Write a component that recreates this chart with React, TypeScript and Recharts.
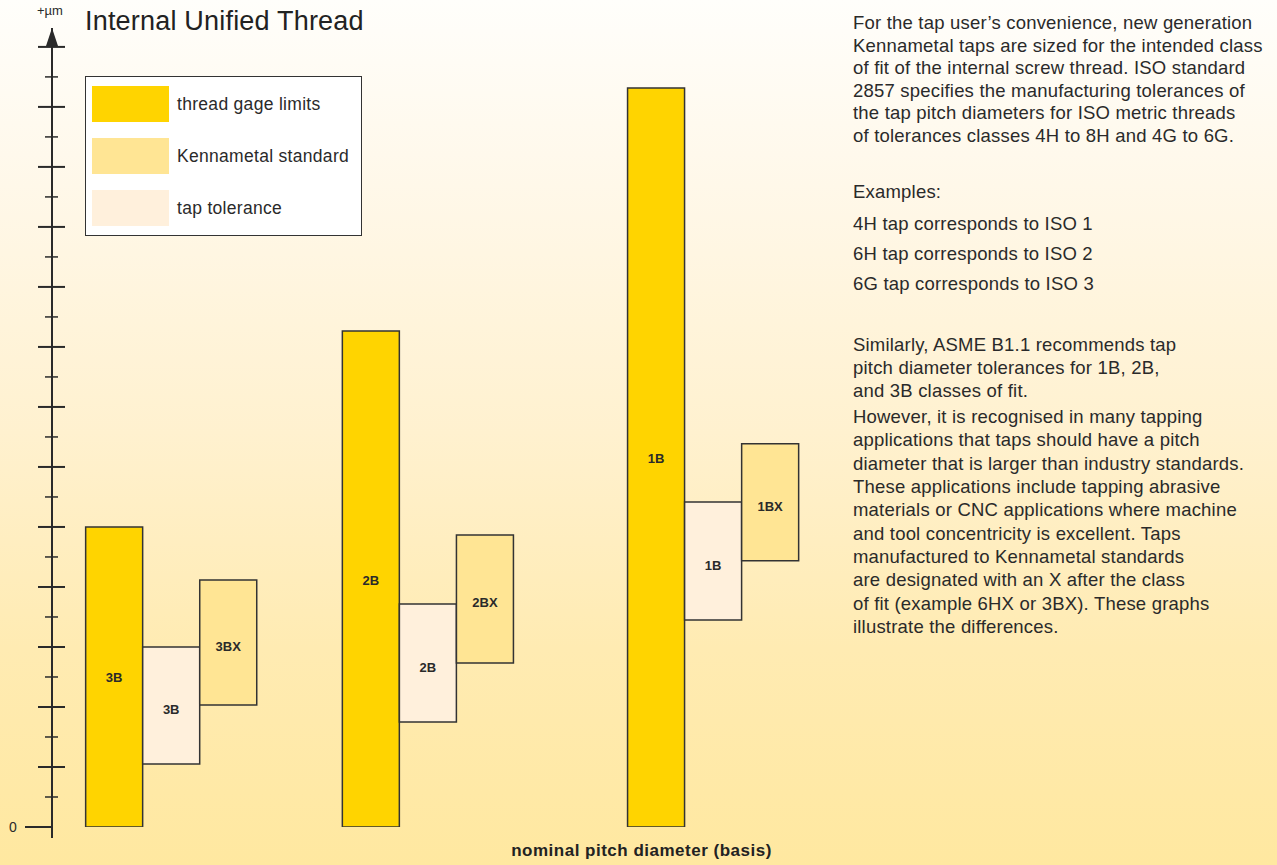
import React from 'react';
import { BarChart, Bar, XAxis, YAxis, Cell, LabelList } from 'recharts';

// thread classes, left to right
const groups = ['3B', '2B', '1B'];
// thread gage limits (from 0 up), µm in tick units
const gageHigh = [10.0, 16.53, 24.63];
// tap tolerance band
const tapLow = [2.1, 3.5, 6.9];
const tapHigh = [6.0, 7.43, 10.83];
// Kennametal standard band
const kennLow = [4.07, 5.47, 8.87];
const kennHigh = [8.23, 9.73, 12.77];
// y axis ticks (every other one is a long tick)
const yTicks = [0, 1, 2, 3, 4, 5, 6, 7, 8, 9, 10, 11, 12, 13, 14, 15, 16, 17, 18, 19, 20, 21, 22, 23, 24, 25, 26];

const legendItems = [
  { key: 'gage', name: 'thread gage limits' },
  { key: 'kenn', name: 'Kennametal standard' },
  { key: 'tap', name: 'tap tolerance' },
];

const COLORS: Record<string, string> = {
  gage: '#ffd400',
  kenn: '#ffe594',
  tap: '#fff0dc',
};

const FONT = '"Liberation Sans", Arial, Helvetica, sans-serif';
const INK = '#2a2a2a';

// group start slots (half bar widths)
const groupSlot = [0, 9, 19];

const rows = groups.flatMap((g, i) => [
  { slot: groupSlot[i], kind: 'gage', range: [0, gageHigh[i]], label: g },
  { slot: groupSlot[i] + 2, kind: 'tap', range: [tapLow[i], tapHigh[i]], label: g },
  { slot: groupSlot[i] + 4, kind: 'kenn', range: [kennLow[i], kennHigh[i]], label: g + 'X' },
]);

const YTick = (props: any) => {
  const { x, y, payload } = props;
  const v = payload.value;
  if (v === 0) {
    return (
      <text x={x - 39} y={y} dy={5} fontSize={14} fill={INK} fontFamily={FONT} textAnchor="middle">
        0
      </text>
    );
  }
  const major = v % 2 === 0;
  return major ? (
    <line x1={x - 14} x2={x + 13} y1={y} y2={y} stroke={INK} strokeWidth={2} />
  ) : (
    <line x1={x - 7} x2={x + 6} y1={y} y2={y} stroke={INK} strokeWidth={1.5} />
  );
};

const BarLabel = (props: any) => {
  const { x, y, width, height, value, index } = props;
  const shift = rows[index] && rows[index].kind === 'gage' ? 1 : 4;
  return (
    <text
      x={x + width / 2}
      y={y + height / 2 + shift}
      dy={4.5}
      textAnchor="middle"
      fill={INK}
      fontSize={13}
      fontWeight="bold"
      fontFamily={FONT}
    >
      {value}
    </text>
  );
};

const paraStyle: React.CSSProperties = {
  position: 'absolute',
  left: 853,
  fontFamily: FONT,
  fontSize: 18.5,
  letterSpacing: '0.2px',
  color: '#2a2a2a',
  whiteSpace: 'nowrap',
};

export default function App() {
  return (
    <div
      style={{
        position: 'absolute',
        left: 0,
        top: 0,
        width: 1277,
        height: 865,
        overflow: 'hidden',
        background: 'linear-gradient(to bottom, #fffefb 0%, #fff7e6 25%, #fff1cf 50%, #ffebb2 75%, #ffe8a0 100%)',
      }}
    >
      <BarChart width={1277} height={865} data={rows} margin={{ top: 28, right: 2, bottom: 38, left: 0 }}>
        <XAxis
          type="number"
          dataKey="slot"
          domain={[-2.18, 40.7]}
          allowDataOverflow
          tick={false}
          tickLine={false}
          axisLine={{ stroke: INK, strokeWidth: 2 }}
          height={0}
        />
        <YAxis
          type="number"
          domain={[0, 26.63]}
          allowDataOverflow
          ticks={yTicks}
          interval={0}
          width={52}
          tickSize={0}
          tickMargin={0}
          tickLine={false}
          tick={<YTick />}
          axisLine={{ stroke: INK, strokeWidth: 2 }}
        />
        <Bar dataKey="range" barSize={57} stroke="#333" strokeWidth={1.5} isAnimationActive={false}>
          {rows.map((r, i) => (
            <Cell key={i} fill={COLORS[r.kind]} />
          ))}
          <LabelList dataKey="label" content={<BarLabel />} />
        </Bar>
      </BarChart>

      {/* axis decorations: arrowhead, axis stubs */}
      <svg width={1277} height={865} style={{ position: 'absolute', left: 0, top: 0, pointerEvents: 'none' }}>
        <polygon points="52,28 46,46 58,46" fill={INK} />
        <line x1={52} x2={52} y1={827} y2={838} stroke={INK} strokeWidth={2} />
        <line x1={25} x2={52} y1={827} y2={827} stroke={INK} strokeWidth={2} />
      </svg>

      <div style={{ position: 'absolute', left: 37, top: 3, fontFamily: FONT, fontSize: 13, color: INK }}>+µm</div>
      <div
        style={{ position: 'absolute', left: 85, top: 6, fontFamily: FONT, fontSize: 27, letterSpacing: '0.2px', color: '#222' }}
      >
        Internal Unified Thread
      </div>

      <div
        style={{
          position: 'absolute',
          left: 85,
          top: 76,
          width: 275,
          height: 158,
          background: '#fff',
          border: '1.5px solid #333',
          fontFamily: FONT,
          fontSize: 17.5,
          letterSpacing: '0.3px',
          color: '#2a2a2a',
        }}
      >
        {legendItems.map((it, i) => (
          <div key={it.key} style={{ position: 'absolute', left: 6, top: 9 + i * 52, display: 'flex', alignItems: 'center' }}>
            <div style={{ width: 77, height: 36, background: COLORS[it.key] }} />
            <span style={{ marginLeft: 8, whiteSpace: 'nowrap' }}>{it.name}</span>
          </div>
        ))}
      </div>

      <div style={{ ...paraStyle, top: 12, lineHeight: '22.6px' }}>
        <div>For the tap user’s convenience, new generation</div>
        <div>Kennametal taps are sized for the intended class</div>
        <div>of fit of the internal screw thread. ISO standard</div>
        <div>2857 specifies the manufacturing tolerances of</div>
        <div>the tap pitch diameters for ISO metric threads</div>
        <div>of tolerances classes 4H to 8H and 4G to 6G.</div>
      </div>
      <div style={{ ...paraStyle, top: 180, lineHeight: '23px' }}>Examples:</div>
      <div style={{ ...paraStyle, top: 209, lineHeight: '30px' }}>
        <div>4H tap corresponds to ISO 1</div>
        <div>6H tap corresponds to ISO 2</div>
        <div>6G tap corresponds to ISO 3</div>
      </div>
      <div style={{ ...paraStyle, top: 333, lineHeight: '23px' }}>
        <div>Similarly, ASME B1.1 recommends tap</div>
        <div>pitch diameter tolerances for 1B, 2B,</div>
        <div>and 3B classes of fit.</div>
      </div>
      <div style={{ ...paraStyle, top: 405, lineHeight: '23.33px' }}>
        <div>However, it is recognised in many tapping</div>
        <div>applications that taps should have a pitch</div>
        <div>diameter that is larger than industry standards.</div>
        <div>These applications include tapping abrasive</div>
        <div>materials or CNC applications where machine</div>
        <div>and tool concentricity is excellent. Taps</div>
        <div>manufactured to Kennametal standards</div>
        <div>are designated with an X after the class</div>
        <div>of fit (example 6HX or 3BX). These graphs</div>
        <div>illustrate the differences.</div>
      </div>

      <div
        style={{
          position: 'absolute',
          left: 0,
          width: 1283,
          top: 841,
          textAlign: 'center',
          fontFamily: FONT,
          fontSize: 17,
          letterSpacing: '0.5px',
          fontWeight: 'bold',
          color: '#222',
        }}
      >
        nominal pitch diameter (basis)
      </div>
    </div>
  );
}
